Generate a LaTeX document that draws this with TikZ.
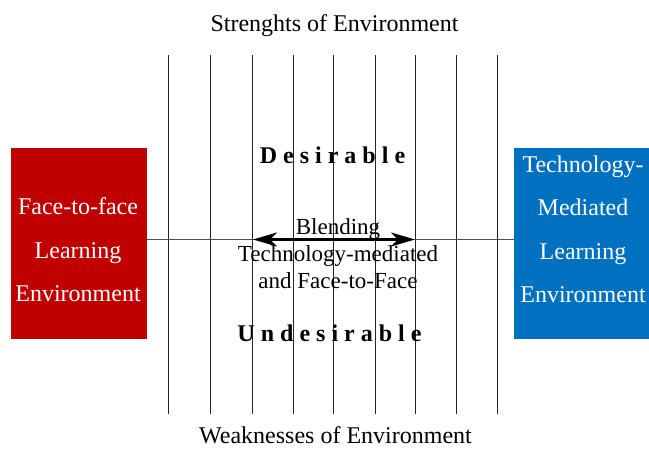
\documentclass[tikz,border=0pt]{standalone}
\usepackage{fontspec}
\setmainfont{Liberation Serif}
\usetikzlibrary{positioning}
\usetikzlibrary{arrows.meta}
\definecolor{envred}{HTML}{C00000}
\definecolor{envblue}{HTML}{0070C0}

\begin{document}
\begin{tikzpicture}[x=1pt, y=-1pt,
    envbox/.style={rectangle, inner sep=0pt, minimum width=136pt, minimum height=191pt},
    envtext/.style={align=center, text=white, font=\fontsize{24}{43.5}\selectfont},
    plaintext/.style={font=\fontsize{24}{27}\selectfont},
    spaced/.style={anchor=base, font=\bfseries\fontsize{24}{27}\selectfont},
    gridline/.style={draw=black!85, line width=1pt},
    axisline/.style={draw=black!70, line width=0.9pt}]
            \useasboundingbox (0,0) rectangle (649,448);
            % Strength / weakness scale
            \foreach \gx in {168,210,252,293,333,375,415,456,497} {
                \draw[gridline] (\gx,55) -- (\gx,414);
            }
            \node[plaintext, anchor=base] (strong) at (334.5,31) {Strenghts of Environment};
            \node[plaintext, anchor=base] (weak) at (335.5,443.5) {Weaknesses of Environment};
            \node[spaced] (des) at (332.5,163) {D e s i r a b l e};
            \node[spaced] (undes) at (329.5,341) {U n d e s i r a b l e};

            % Both environments
            \node[envbox, fill=envred] (f2f) at (78.5,243.5) {};
            \node[envbox, fill=envblue] (tm) at (582,243.5) {};
            \node[envtext] (f2ftext) at (78,250) {Face-to-face\\Learning\\Environment};
            \node[envtext] (tmtext) at (583,229.5) {Technology-\\Mediated\\Learning\\Environment};

            % Blending in the middle
            \coordinate (mid) at (333,239.5);
            \coordinate (bl) at (253,239.5);
            \coordinate (br) at (415,239.5);
            \draw[axisline] (f2f.east |- mid) -- (tm.west |- mid);
            \draw[line width=3pt, {Stealth[length=24pt, width=14pt, inset=7pt]}-{Stealth[length=24pt, width=14pt, inset=7pt]}] (bl) -- (br);
            \node[plaintext, align=center, font=\fontsize{23}{27}\selectfont] (blend) at (338,254) {Blending\\Technology-mediated\\and Face-to-Face};
        \end{tikzpicture}
\end{document}
